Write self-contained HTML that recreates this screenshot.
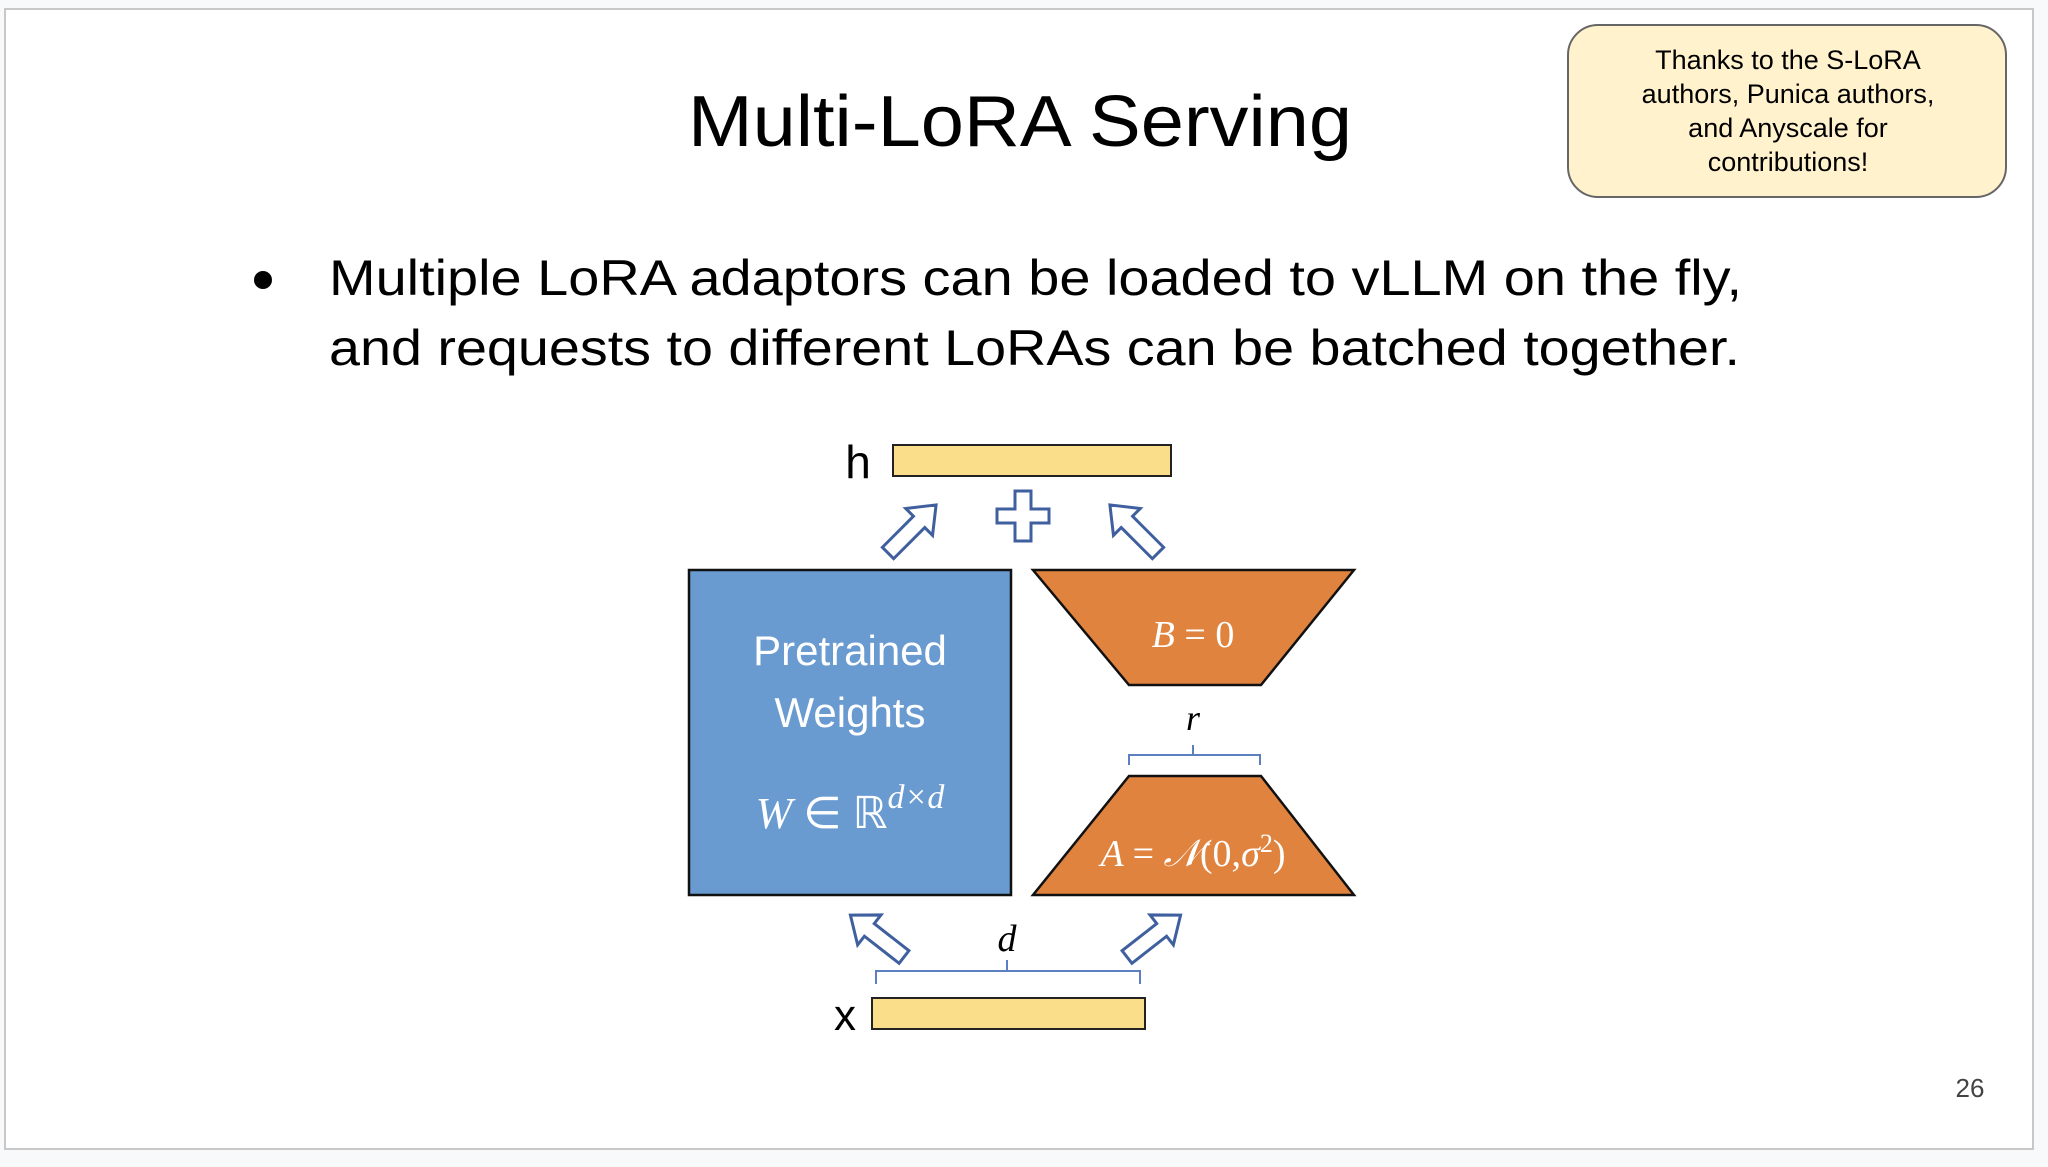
<!DOCTYPE html>
<html><head><meta charset="utf-8"><style>
html,body{margin:0;padding:0;background:#f8f9fa;}
svg{display:block;}
</style></head><body>
<svg width="2048" height="1167" viewBox="0 0 2048 1167" xmlns="http://www.w3.org/2000/svg" font-family="Liberation Sans, sans-serif">
<defs>
<path id="arr" d="M-8,0 L8,0 L8,-44 L19,-44 L0,-68 L-19,-44 L-8,-44 Z" fill="#fff" stroke="#3f5f9f" stroke-width="3" stroke-linejoin="miter"/>
</defs>
<rect x="5" y="9" width="2028" height="1140" fill="#fff" stroke="#c8c8c8" stroke-width="2"/>
<text x="1020" y="146" font-size="72" text-anchor="middle" textLength="664" lengthAdjust="spacingAndGlyphs" fill="#000">Multi-LoRA Serving</text>
<rect x="1568" y="25" width="438" height="172" rx="30" fill="#fff2cc" stroke="#666" stroke-width="2"/>
<g font-size="27" text-anchor="middle" fill="#000">
<text x="1788" y="69">Thanks to the S-LoRA</text>
<text x="1788" y="103">authors, Punica authors,</text>
<text x="1788" y="137">and Anyscale for</text>
<text x="1788" y="171">contributions!</text>
</g>
<circle cx="263" cy="280" r="9" fill="#000"/>
<text x="329" y="295" font-size="50" textLength="1413" lengthAdjust="spacingAndGlyphs">Multiple LoRA adaptors can be loaded to vLLM on the fly,</text>
<text x="329" y="365" font-size="50" textLength="1411" lengthAdjust="spacingAndGlyphs">and requests to different LoRAs can be batched together.</text>
<g transform="translate(-3,0)">
<rect x="896" y="445" width="278" height="31" fill="#fade8a" stroke="#222" stroke-width="2"/>
<text x="861" y="478" font-size="46" text-anchor="middle">h</text>
<rect x="692" y="570" width="322" height="325" fill="#699bd1" stroke="#111" stroke-width="2.5"/>
<polygon points="1036,570 1357,570 1264,685 1132,685" fill="#e0833e" stroke="#111" stroke-width="2.5"/>
<polygon points="1132,776 1264,776 1357,895 1036,895" fill="#e0833e" stroke="#111" stroke-width="2.5"/>
<g fill="#fff" text-anchor="middle">
<text x="853" y="665" font-size="42">Pretrained</text>
<text x="853" y="727" font-size="42">Weights</text>
<text x="853" y="828" font-size="44" font-family="Liberation Serif, serif" font-style="italic">W <tspan font-style="normal">∈ ℝ</tspan><tspan dy="-20" font-size="34">d×d</tspan></text>
<text x="1196" y="647" font-size="38" font-family="Liberation Serif, serif" font-style="italic">B <tspan font-style="normal">= 0</tspan></text>
<text x="1196" y="866" font-size="38" font-family="Liberation Serif, serif" font-style="italic">A <tspan font-style="normal">= </tspan>𝒩<tspan font-style="normal">(0,</tspan>σ<tspan dy="-14" font-size="26" font-style="normal">2</tspan><tspan dy="14" font-style="normal">)</tspan></text>
</g>
<path d="M1018,491 L1034,491 L1034,509 L1052,509 L1052,523 L1034,523 L1034,541 L1018,541 L1018,523 L1000,523 L1000,509 L1018,509 Z" fill="#fff" stroke="#3f5f9f" stroke-width="3"/>
<use href="#arr" transform="translate(891,553) rotate(45)"/>
<use href="#arr" transform="translate(1161,553) rotate(-45)"/>
<use href="#arr" transform="translate(907,957) rotate(-52)"/>
<use href="#arr" transform="translate(1130,957) rotate(52)"/>
<path d="M1132,765 L1132,755 L1196,755 L1196,745 M1196,755 L1263,755 L1263,765" fill="none" stroke="#5b7fc0" stroke-width="2"/>
<text x="1196" y="730" font-size="36" font-family="Liberation Serif, serif" font-style="italic" text-anchor="middle">r</text>
<path d="M879,984 L879,971 L1010,971 L1010,960 M1010,971 L1143,971 L1143,984" fill="none" stroke="#5b7fc0" stroke-width="2"/>
<text x="1010" y="951" font-size="38" font-family="Liberation Serif, serif" font-style="italic" text-anchor="middle">d</text>
<rect x="875" y="998" width="273" height="31" fill="#fade8a" stroke="#222" stroke-width="2"/>
<text x="848" y="1030" font-size="44" text-anchor="middle">x</text>
</g>
<text x="1970" y="1097" font-size="26" fill="#444" text-anchor="middle">26</text>
</svg>
</body></html>
